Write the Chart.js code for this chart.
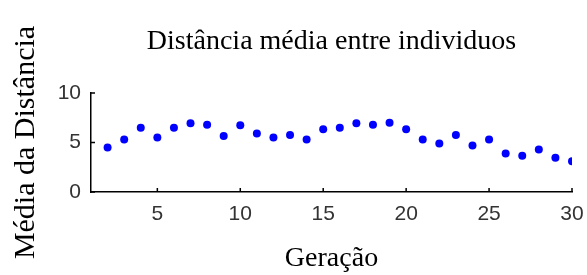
<!DOCTYPE html>
<html>
<head>
<meta charset="utf-8">
<script src="https://cdn.jsdelivr.net/npm/chart.js@4"></script>
<style>
html,body{margin:0;padding:0;background:#fff;}
#wrap{width:587px;height:275px;}
</style>
</head>
<body>
<div id="wrap"><canvas id="c" width="587" height="275"></canvas></div>
<script>
const generations = [2,3,4,5,6,7,8,9,10,11,12,13,14,15,16,17,18,19,20,21,22,23,24,25,26,27,28,29,30];
const meanDistance = [4.5,5.3,6.5,5.5,6.5,6.95,6.8,5.65,6.75,5.9,5.5,5.75,5.3,6.35,6.5,6.95,6.8,7.0,6.35,5.3,4.9,5.75,4.7,5.3,3.9,3.65,4.3,3.45,3.1];
const xTicks = [5,10,15,20,25,30];
const yTicks = [0,5,10];
const titleText = 'Distância média entre individuos';
const xLabel = 'Geração';
const yLabel = 'Média da Distância';

const points = generations.map((g,i)=>({x:g,y:meanDistance[i]}));

const inwardTicks = {
  id:'inwardTicks',
  afterDraw(chart){
    const ctx = chart.ctx, a = chart.chartArea;
    const xs = chart.scales.x, ys = chart.scales.y;
    ctx.save();
    ctx.strokeStyle = '#000';
    ctx.lineWidth = 1.5;
    ctx.beginPath();
    xTicks.forEach(v=>{const px = xs.getPixelForValue(v); ctx.moveTo(px,a.bottom); ctx.lineTo(px,a.bottom-4);});
    yTicks.forEach(v=>{const py = ys.getPixelForValue(v); ctx.moveTo(a.left,py); ctx.lineTo(a.left+4,py);});
    ctx.stroke();
    ctx.restore();
  }
};

new Chart(document.getElementById('c'),{
  type:'scatter',
  data:{datasets:[{data:points,backgroundColor:'#0000ff',borderWidth:0,pointRadius:4,pointHoverRadius:4}]},
  options:{
    responsive:false,
    animation:false,
    devicePixelRatio:1,
    layout:{padding:{left:0,right:15,top:0,bottom:0}},
    plugins:{
      legend:{display:false},
      tooltip:{enabled:false},
      title:{display:true,text:titleText,fullSize:false,color:'#000',
        font:{family:'"Liberation Serif", "Times New Roman", serif',size:28,weight:'normal'},
        padding:{top:25,bottom:34.4}}
    },
    scales:{
      x:{type:'linear',min:1,max:30,
        afterBuildTicks(s){s.ticks = xTicks.map(v=>({value:v}));},
        afterFit(s){s.height = 83; s.paddingLeft = 0; s.paddingRight = 0;},
        grid:{display:false,drawTicks:false},
        border:{display:true,color:'#000',width:1.5},
        ticks:{color:'#333',padding:10,maxRotation:0,autoSkip:false,
          font:{family:'"Liberation Sans", Arial, sans-serif',size:21}},
        title:{display:true,text:xLabel,color:'#000',
          font:{family:'"Liberation Serif", "Times New Roman", serif',size:28},
          padding:{top:0,bottom:0}}
      },
      y:{type:'linear',min:0,max:10,
        afterBuildTicks(s){s.ticks = yTicks.map(v=>({value:v}));},
        afterFit(s){s.width = 91; s.paddingTop = 0; s.paddingBottom = 0;},
        grid:{display:false,drawTicks:false},
        border:{display:true,color:'#000',width:1.5},
        ticks:{color:'#333',padding:10,
          font:{family:'"Liberation Sans", Arial, sans-serif',size:21}},
        title:{display:true,text:yLabel,color:'#000',
          font:{family:'"Liberation Serif", "Times New Roman", serif',size:30},
          padding:{top:8,bottom:0}}
      }
    }
  },
  plugins:[inwardTicks]
});
</script>
</body>
</html>
